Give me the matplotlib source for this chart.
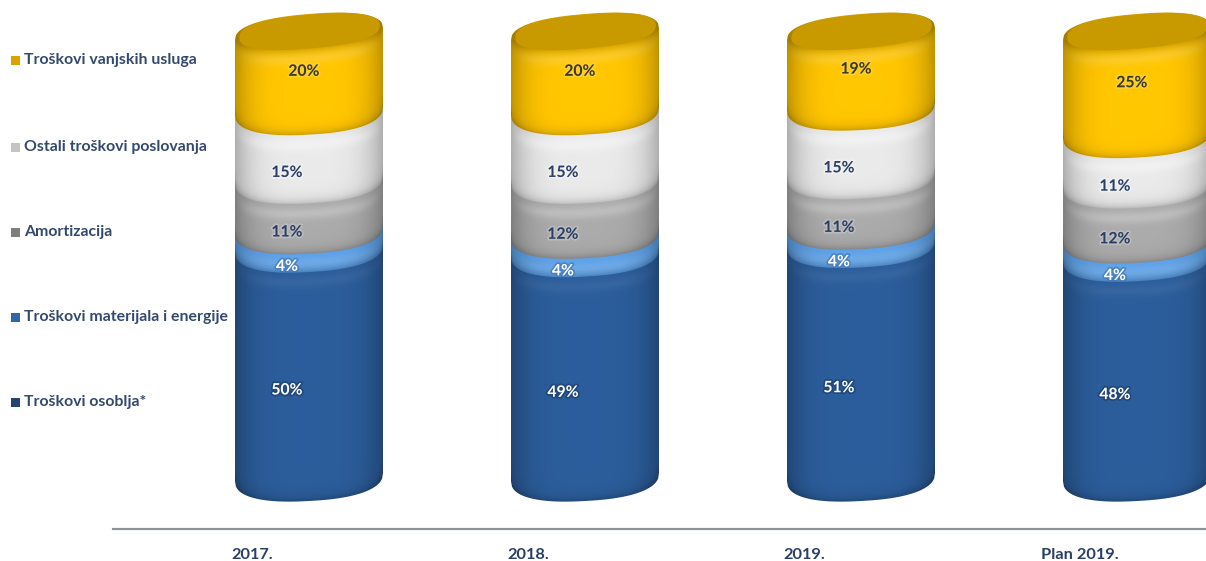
import numpy as np
import matplotlib
matplotlib.use("Agg")
import matplotlib.pyplot as plt
from matplotlib.path import Path
from matplotlib.patches import PathPatch, Rectangle
from matplotlib.colors import to_rgb
import matplotlib.patheffects as pe

categories = ["2017.", "2018.", "2019.", "Plan 2019."]
osoblje = [50, 49, 51, 48]
materijal = [4, 4, 4, 4]
amortizacija = [11, 12, 11, 12]
ostali = [15, 15, 15, 11]
vanjske = [20, 20, 19, 25]
series = [osoblje, materijal, amortizacija, ostali, vanjske]
legend_labels = ["Troškovi osoblja*", "Troškovi materijala i energije", "Amortizacija",
                 "Ostali troškovi poslovanja", "Troškovi vanjskih usluga"]
colors = ["#2b5c99", "#5b9fe6", "#a8a8a8", "#e6e6e6", "#ffc400"]
glows = [0.05, 0.12, 0.22, 0.35, 0.15]
legend_colors = ["#24456f", "#2f66a8", "#7f7f7f", "#c4c4c4", "#d9a300"]
text_colors = ["white", "white", "#2b3f66", "#2b3f66", "#3a3a2a"]
halo_colors = ["#1d3f6e", "#3f78bb", "#c4c4c4", "#f4f4f4", "#ffd23c"]

W, H = 1206, 561
BASE_PX, PX_PER_PCT = 477, 4.58
CENTER0_PX, STEP_PX = 309, 276
HALF_PX, MINOR_PX, TILT_PX = 74, 24, 4

fig = plt.figure(figsize=(W / 100, H / 100), dpi=100)
ax = fig.add_axes([0, 0, 1, 1])
ax.set_xlim(-CENTER0_PX / STEP_PX, (W - CENTER0_PX) / STEP_PX)
ax.set_ylim((BASE_PX - H) / PX_PER_PCT, BASE_PX / PX_PER_PCT)
xlim, ylim = ax.get_xlim(), ax.get_ylim()
plt.rcParams["font.family"] = ["Lato", "DejaVu Sans"]

half = HALF_PX / STEP_PX
minor = MINOR_PX / PX_PER_PCT
tilt = TILT_PX / PX_PER_PCT
cap_tilt = 6 / PX_PER_PCT


def g(u, p=2.4):
    return np.clip(1 - np.abs(u) ** p, 0, 1) ** (1 / p)


def lower(u, level, m=minor, t=tilt):
    return level + t * u - m * g(u)


def upper(u, level, m=minor, t=tilt):
    return level + t * u + m * g(u)


def shaded(cx, y0, y1, color, glow_amp, is_top, cap_level=None):
    """Paint one stacked segment between data levels y0 and y1."""
    us = np.linspace(-1, 1, 161)
    if is_top:
        up = upper(us, cap_level, 20 / PX_PER_PCT, cap_tilt)
    else:
        up = upper(us, y1)
    lo = lower(us, y0)
    verts = np.r_[np.c_[cx + half * us, lo], np.c_[cx + half * us[::-1], up[::-1]]]
    path = Path(np.r_[verts, verts[:1]], closed=True)
    patch = PathPatch(path, transform=ax.transData, fc="none", ec="none")
    ax.add_patch(patch)

    ny = 300
    ytop, ybot = up.max() + 1, lo.min() - 1
    yy = np.linspace(ytop, ybot, ny)
    uu, YY = np.meshgrid(us, yy)
    d_b = (YY - lower(uu, y0)) * PX_PER_PCT
    if is_top:
        edge = lower(uu, cap_level + 3 / PX_PER_PCT, 17 / PX_PER_PCT, cap_tilt)
    else:
        edge = lower(uu, y1)
    d_t = (edge - YY) * PX_PER_PCT
    side = 0.76 + 0.26 * (1 - np.abs(uu) ** 4)
    L = side * (1 - 0.2 * np.exp(-np.maximum(d_b, 0) / 5))
    if is_top:
        L = L * (1 - 0.18 * np.exp(-np.maximum(d_t, 0) / 6))
    glow = glow_amp * np.exp(-((d_t - 10) / 6) ** 2) * (1 - np.abs(uu) ** 4)
    c = np.array(to_rgb(color))
    rgb = np.clip(L[..., None] * c, 0, 1)
    rgb = rgb + (1 - rgb) * glow[..., None]
    im = ax.imshow(rgb, extent=(cx - half, cx + half, ybot, ytop), origin="upper",
                   aspect="auto", interpolation="bilinear", zorder=2)
    im.set_clip_path(patch)
    return im


cap_level = (BASE_PX - 34) / PX_PER_PCT
for i in range(len(categories)):
    bottom = 0
    for s, vals in enumerate(series):
        top = bottom + vals[i]
        is_top = s == len(series) - 1
        shaded(i, bottom, top, colors[s], glows[s], is_top, cap_level)
        dx = -5 if is_top else -22
        dy = -7 if is_top else -28
        ax.annotate(f"{vals[i]}%", xy=(i, bottom + vals[i] / 2),
                    xytext=(dx * 0.72, dy * 0.72), textcoords="offset points",
                    ha="center", va="center", fontsize=11.3, fontweight="bold",
                    color=text_colors[s], zorder=5,
                    path_effects=[pe.withStroke(linewidth=2.5, foreground=halo_colors[s], alpha=0.7)])
        bottom = top
    # recessed top cap
    us = np.linspace(-1, 1, 161)
    capw = half * 0.95
    m = 17 / PX_PER_PCT
    lev = cap_level + 3 / PX_PER_PCT
    ax.fill_between(i + capw * us, lower(us, lev, m, cap_tilt), upper(us, lev, m, cap_tilt),
                    color="#c99a00", lw=0, zorder=3)

ax.set_xlim(xlim)
ax.set_ylim(ylim)

# Axis line and category labels
for sp in ["top", "left", "right"]:
    ax.spines[sp].set_visible(False)
ax.patch.set_visible(False)
ax.spines["bottom"].set_position(("data", (BASE_PX - 529) / PX_PER_PCT))
ax.spines["bottom"].set_bounds((113 - CENTER0_PX) / STEP_PX, xlim[1])
ax.spines["bottom"].set_color("#8e9296")
ax.spines["bottom"].set_linewidth(1.6)
ax.set_yticks([])
tick_shift = -57 / STEP_PX
ax.set_xticks([i + tick_shift for i in range(len(categories))], categories)
ax.tick_params(axis="x", length=0, pad=14, labelsize=11.8, labelcolor="#2b3f66")
for t in ax.get_xticklabels():
    t.set_fontweight("bold")

# Legend
legend_px = [402, 317, 232, 147, 60]
for lab, col, ypx in zip(legend_labels, legend_colors, legend_px):
    fig.text(24 / W, 1 - ypx / H, lab, ha="left", va="center", fontsize=11.4,
             fontweight="bold", color="#33496e")
    fig.add_artist(Rectangle((11 / W, 1 - (ypx + 5) / H), 9 / W, 9 / H,
                             transform=fig.transFigure, fc=col, ec="none"))

fig.savefig("out.png", dpi=100)
